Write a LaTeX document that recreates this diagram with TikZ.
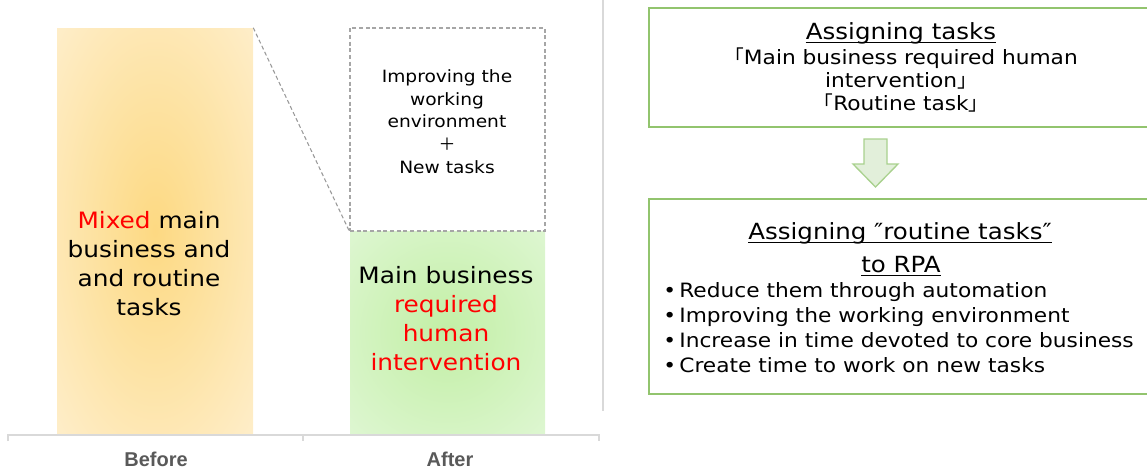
\documentclass[tikz,border=0pt]{standalone}
\usepackage{fontspec}
\setmainfont{DejaVu Sans}[FakeStretch=1.1]
\newfontfamily\jpfont{Noto Sans CJK JP}
\newfontfamily\axisfont{Liberation Sans}
\usetikzlibrary{fit,backgrounds}

\definecolor{mixIn}{RGB}{253,217,130}
\definecolor{mixOut}{RGB}{254,243,220}
\definecolor{mainIn}{RGB}{194,239,165}
\definecolor{mainOut}{RGB}{229,248,221}
\definecolor{boxGreen}{RGB}{146,196,110}
\definecolor{arrFill}{RGB}{226,239,218}
\definecolor{arrDraw}{RGB}{169,209,142}
\definecolor{rule}{RGB}{217,217,217}
\definecolor{axisText}{RGB}{89,89,89}

% soft glow reaching the edges of the bar
\pgfdeclareradialshading[mixIn,mixOut]{mixglow}{\pgfpointorigin}
  {color(0bp)=(mixIn); color(45bp)=(mixOut); color(50bp)=(mixOut)}
\pgfdeclareradialshading[mainIn,mainOut]{mainglow}{\pgfpointorigin}
  {color(0bp)=(mainIn); color(45bp)=(mainOut); color(50bp)=(mainOut)}

\newcommand{\jb}[1]{{\jpfont #1}}

\begin{document}
\begin{tikzpicture}[x=0.75pt,y=-0.75pt,
  bar/.style={inner sep=0pt,shade},
  gbox/.style={draw=boxGreen,line width=1.1pt,inner sep=0pt},
  dbox/.style={draw=black!35,line width=0.8pt,dash pattern=on 3pt off 2pt,inner sep=0pt},
  big/.style={anchor=base,align=center,font=\fontsize{16.9}{21.6}\selectfont},
  ttl/.style={anchor=base,inner sep=0pt,font=\fontsize{16.7}{20}\selectfont},
  txt/.style={anchor=base,align=center,font=\fontsize{14.8}{16.9}\selectfont},
  lbl/.style={anchor=base,font=\axisfont\bfseries\fontsize{15}{18}\selectfont,text=axisText},
  axis/.style={draw=rule,line width=1.2pt},
  uline/.style={line width=0.9pt}
]
  \useasboundingbox (0,0) rectangle (1147,471);

  % before / after columns
  \coordinate (o1) at (57,28);   \coordinate (o2) at (253,433);
  \coordinate (g1) at (350,231); \coordinate (g2) at (545,433);
  \coordinate (n1) at (350,28);
  \node[bar,shading=mixglow,fit=(o1)(o2)] (before) {};
  \node[bar,shading=mainglow,fit=(g1)(g2)] (after) {};
  \node[dbox,fit=(n1)(g2|-g1)] (newbox) {};
  \draw[black!40,line width=0.8pt,dash pattern=on 3pt off 2pt]
    (before.north east)--(newbox.south west);

  % multi-line nodes sit on the baseline of their last line
  \node[big] (mixtxt) at (149,315)
    {\textcolor{red}{Mixed} main\\business and\\and routine\\tasks};
  \node[big] (maintxt) at (446,370)
    {Main business\\\textcolor{red}{required}\\\textcolor{red}{human}\\\textcolor{red}{intervention}};
  \node[anchor=base,align=center,font=\fontsize{12.7}{16.9}\selectfont] (newtxt) at (447,173)
    {Improving the\\working\\environment\\\jb{＋}\\New tasks};

  % axis
  \draw[axis] (8,441)--(8,435)--(599,435)--(599,441);
  \draw[axis] (303,435)--(303,441);
  \node[lbl] (lbefore) at (156,466) {Before};
  \node[lbl] (lafter)  at (450,466) {After};
  \draw[rule,line width=1.2pt] (603,0)--(603,411);

  % right hand side
  \coordinate (a1) at (649,8);   \coordinate (a2) at (1152,127);
  \coordinate (r1) at (649,199); \coordinate (r2) at (1152,394);
  \node[gbox,fit=(a1)(a2)] (assign) {};
  \node[gbox,fit=(r1)(r2)] (rpa) {};

  \node[ttl] (assignttl) at (901,39) {Assigning tasks};
  \draw[uline] ([yshift=-2.6pt]assignttl.base west)--([yshift=-2.6pt]assignttl.base east);
  \node[txt] (assigntxt) at (901,110)
    {\jb{「}Main business required human\\intervention\jb{」}\\\jb{「}Routine task\jb{」}};

  \draw[arrDraw,fill=arrFill,line width=1pt,line join=miter]
    (864,139)--(887,139)--(887,164)--(898,164)--(875.5,187)--(853,164)--(864,164)--cycle;

  \node[ttl] (rpattl) at (900,239) {Assigning ″routine tasks″};
  \node[ttl] (rpattlb) at (901,272) {to RPA};
  \draw[uline] ([yshift=-2.6pt]rpattl.base west)--([yshift=-2.6pt]rpattl.base east);
  \draw[uline] ([yshift=-2.6pt]rpattlb.base west)--([yshift=-2.6pt]rpattlb.base east);
  \node[anchor=base west,align=left,inner sep=0pt,font=\fontsize{14.8}{18.75}\selectfont] (rpatxt) at (663,372)
    {•\,Reduce them through automation\\
     •\,Improving the working environment\\
     •\,Increase in time devoted to core business\\
     •\,Create time to work on new tasks};
\end{tikzpicture}
\end{document}
